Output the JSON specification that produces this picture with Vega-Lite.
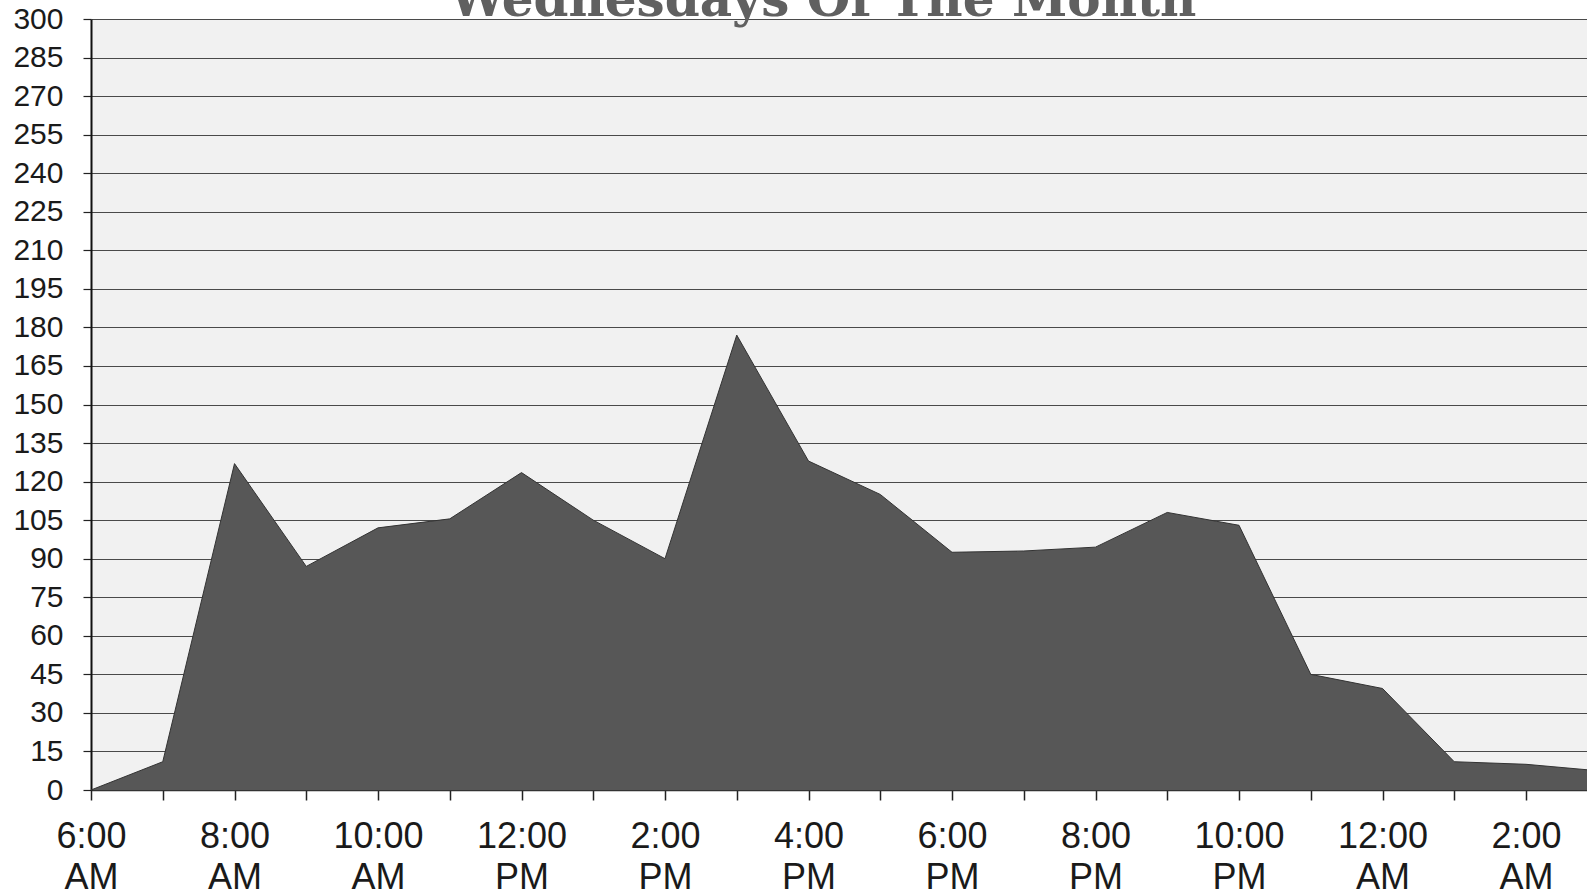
{
  "$schema": "https://vega.github.io/schema/vega-lite/v6.json",
  "width": 1496,
  "height": 771,
  "autosize": {"type": "none"},
  "padding": {"left": 91, "top": 19, "right": 0, "bottom": 105},
  "background": "#ffffff",
  "title": {
    "text": "Wednesdays Of The Month",
    "font": "DejaVu Serif",
    "fontWeight": "bold",
    "fontSize": 50,
    "color": "#606060",
    "frame": "group",
    "anchor": "middle",
    "baseline": "alphabetic",
    "offset": 0,
    "dy": 62,
    "dx": -16
  },
  "config": {
    "view": {"fill": "#f1f1f1", "stroke": null}
  },
  "data": {
    "values": [
      {"h": 0, "count": 0},
      {"h": 1, "count": 11},
      {"h": 2, "count": 127},
      {"h": 3, "count": 87},
      {"h": 4, "count": 102},
      {"h": 5, "count": 105.5},
      {"h": 6, "count": 123.5},
      {"h": 7, "count": 105},
      {"h": 8, "count": 90},
      {"h": 9, "count": 177},
      {"h": 10, "count": 128},
      {"h": 11, "count": 115},
      {"h": 12, "count": 92.5},
      {"h": 13, "count": 93},
      {"h": 14, "count": 94.5},
      {"h": 15, "count": 108},
      {"h": 16, "count": 103},
      {"h": 17, "count": 45},
      {"h": 18, "count": 39.5},
      {"h": 19, "count": 11},
      {"h": 20, "count": 10},
      {"h": 21, "count": 7.5}
    ]
  },
  "mark": {"type": "area", "color": "#575757", "line": {"color": "#333333", "strokeWidth": 1}, "clip": true, "opacity": 1},
  "encoding": {
    "x": {
      "field": "h",
      "type": "quantitative",
      "scale": {"domain": [0, 20.85], "nice": false, "zero": false},
      "axis": {
        "title": null,
        "values": [0,1,2,3,4,5,6,7,8,9,10,11,12,13,14,15,16,17,18,19,20],
        "labelExpr": "datum.value % 2 == 0 ? [(((6 + datum.value) % 12) == 0 ? 12 : ((6 + datum.value) % 12)) + ':00', ((6 + datum.value) % 24) < 12 ? 'AM' : 'PM'] : ''",
        "labelFont": "Liberation Sans",
        "labelFontSize": 36,
        "labelColor": "#1a1a1a",
        "labelLineHeight": 41,
        "labelPadding": 19,
        "labelOverlap": false,
        "labelBound": false,
        "labelFlush": false,
        "tickSize": 10,
        "tickColor": "#222222",
        "tickWidth": 1.5,
        "domainColor": "#333333",
        "domainWidth": 1.5,
        "grid": false
      }
    },
    "y": {
      "field": "count",
      "type": "quantitative",
      "scale": {"domain": [0, 300], "nice": false},
      "axis": {
        "title": null,
        "values": [0,15,30,45,60,75,90,105,120,135,150,165,180,195,210,225,240,255,270,285,300],
        "labelFont": "Liberation Sans",
        "labelFontSize": 30,
        "labelColor": "#1a1a1a",
        "labelPadding": 20,
        "labelOverlap": false,
        "labelBound": false,
        "labelFlush": false,
        "tickSize": 8,
        "tickColor": "#222222",
        "tickWidth": 1.2,
        "domainColor": "#111111",
        "domainWidth": 2,
        "grid": true,
        "gridColor": "#4a4a4a",
        "gridWidth": 1.2,
        "gridOpacity": 1
      }
    }
  }
}
